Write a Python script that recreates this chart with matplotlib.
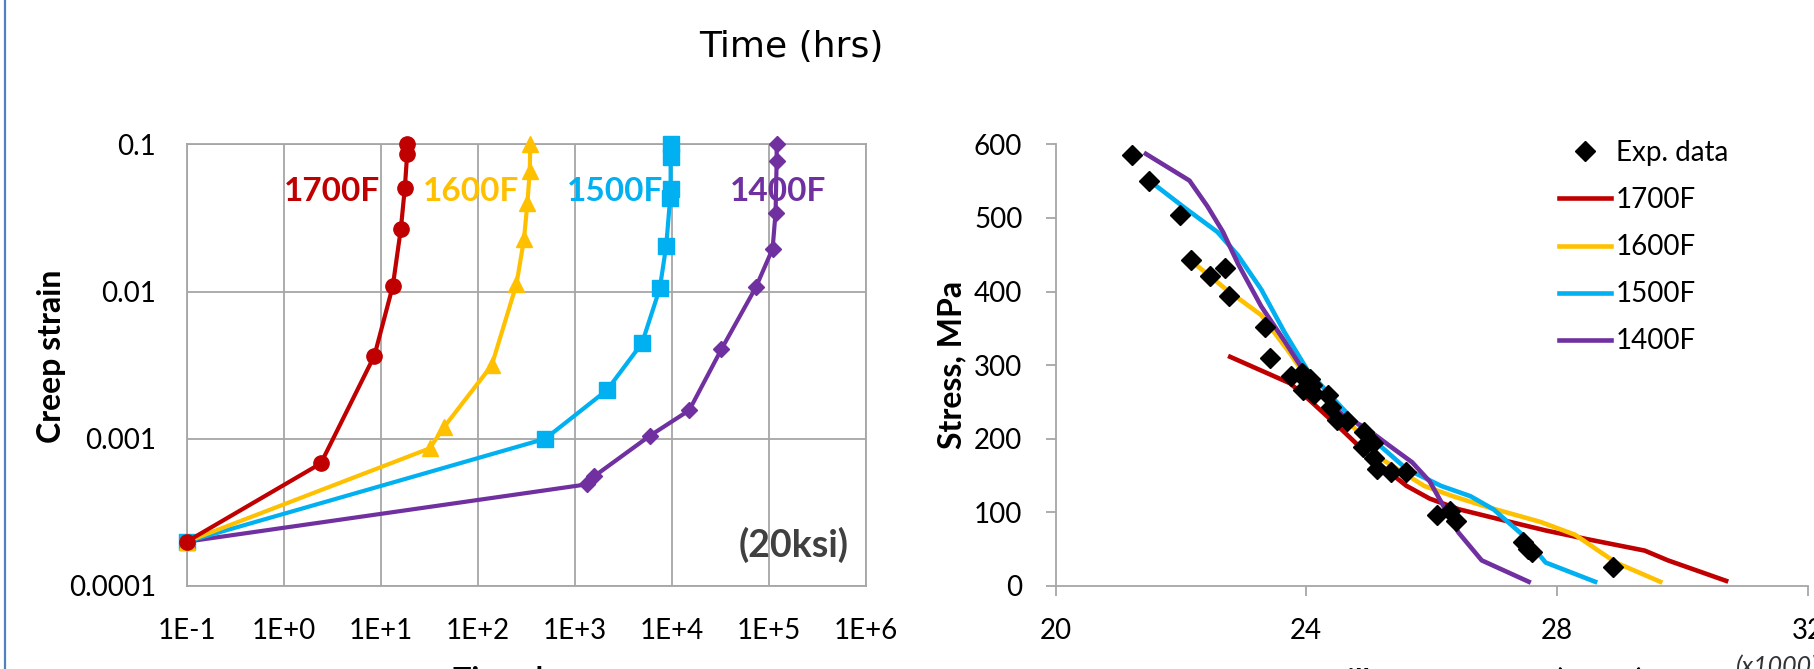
import matplotlib
matplotlib.use("Agg")
import matplotlib.pyplot as plt
from matplotlib.lines import Line2D

plt.rcParams['font.family'] = ['Lato', 'DejaVu Sans']

# ---------------- data: creep curves (left) ----------------
temps = ['1700F', '1600F', '1500F', '1400F']
colors = ['#C00000', '#FFC000', '#00B0F0', '#7030A0']
markers = ['o', '^', 's', 'D']

t1700 = [0.1, 2.41, 8.6, 13.3, 16.1, 17.7, 18.7, 18.7]
e1700 = [2.0e-4, 6.8e-4, 3.67e-3, 0.0109, 0.0267, 0.0506, 0.0863, 0.1]
t1600 = [0.1, 31.8, 44.8, 139, 250, 299, 324, 343, 347]
e1600 = [2.0e-4, 8.6e-4, 1.2e-3, 3.15e-3, 0.0112, 0.0227, 0.0398, 0.0657, 0.1]
t1500 = [0.1, 495, 2140, 4920, 7500, 8730, 9600, 9700, 9700, 9700]
e1500 = [2.0e-4, 1.0e-3, 2.14e-3, 4.46e-3, 0.0105, 0.0204, 0.0434, 0.0497, 0.0819, 0.1]
t1400 = [0.1, 1325, 1580, 5950, 15070, 32400, 73400, 109000, 117000, 120000, 120000]
e1400 = [2.0e-4, 4.9e-4, 5.56e-4, 1.05e-3, 1.56e-3, 4.06e-3, 0.0107, 0.0195, 0.0344, 0.0766, 0.1]

label_x = [3.13, 85.5, 2620, 123000]
label_y = 0.0476

xtick_vals = [1e-1, 1e0, 1e1, 1e2, 1e3, 1e4, 1e5, 1e6]
xtick_labels = ['1E-1', '1E+0', '1E+1', '1E+2', '1E+3', '1E+4', '1E+5', '1E+6']
ytick_vals = [1e-4, 1e-3, 1e-2, 1e-1]
ytick_labels = ['0.0001', '0.001', '0.01', '0.1']

# ---------------- data: Larson-Miller (right) ----------------
exp_lmp = [21.225, 21.494, 21.986, 22.153, 22.469, 22.701, 22.766, 23.341, 23.425,
           23.750, 23.926, 23.991, 24.065, 23.954, 24.093, 24.130, 24.343, 24.399,
           24.483, 24.650, 24.919, 24.900, 25.067, 25.086, 25.132, 25.346, 25.596,
           26.079, 26.292, 26.385, 27.452, 27.545, 27.610, 28.900]
exp_stress = [585.5, 550.7, 504.3, 442.3, 421.4, 431.9, 394.2, 351.9, 310.1,
              285.8, 289.9, 279.4, 281.2, 266.7, 272.5, 260.9, 259.1, 243.5,
              226.1, 224.3, 208.7, 188.4, 194.2, 173.9, 159.4, 154.8, 154.8,
              96.8, 101.4, 88.7, 59.7, 50.4, 46.4, 26.1]

lmp1700 = [22.785, 23.740, 24.019, 24.575, 25.039, 25.596, 25.967, 26.431, 27.174, 27.824, 28.473, 29.401, 29.773, 30.701]
s1700 = [311.3, 275.4, 255.0, 211.6, 173.9, 136.2, 118.8, 104.3, 88.7, 75.4, 63.8, 48.1, 34.8, 7.0]
lmp1600 = [22.153, 22.72, 23.28, 23.74, 24.02, 24.58, 25.23, 25.88, 26.34, 26.90, 27.74, 28.29, 28.94, 29.65]
s1600 = [442.3, 403, 368, 316, 281, 232, 171, 136, 122, 107, 87, 69.6, 31.9, 5.8]
lmp1500 = [21.494, 22.07, 22.58, 22.91, 23.28, 23.65, 24.02, 24.58, 25.13, 25.60, 26.15, 26.62, 26.99, 27.45, 27.82, 28.61]
s1500 = [550.7, 513, 481, 449, 403, 345, 293, 241, 194, 159, 136, 122, 104, 69.6, 31.9, 5.8]
lmp1400 = [21.44, 22.135, 22.42, 22.67, 22.91, 23.28, 23.65, 23.93, 24.20, 24.58, 24.95, 25.32, 25.69, 25.97, 26.20, 26.43, 26.80, 27.55]
s1400 = [587, 550.7, 516, 481, 437.7, 380, 333, 296, 264, 232, 214.5, 191, 168, 142, 107, 72.5, 34.8, 5.8]

lm_xticks = [20, 24, 28, 32]
lm_yticks = [0, 100, 200, 300, 400, 500, 600]

# ---------------- figure ----------------
W, H = 1814, 669
fig = plt.figure(figsize=(W / 100, H / 100), dpi=100)
fig.patch.set_facecolor('white')

def fx(px):
    return px / W

def fy(py):
    return 1 - py / H

grid_c = '#A6A6A6'
ax1 = fig.add_axes([fx(186.7), fy(586), fx(866) - fx(186.7), fy(144.3) - fy(586)])
ax1.set_xscale('log')
ax1.set_yscale('log')
ax1.set_xlim(1e-1, 1e6)
ax1.set_ylim(1e-4, 1e-1)
ax1.set_xticks(xtick_vals)
ax1.set_xticklabels(xtick_labels)
ax1.set_yticks(ytick_vals)
ax1.set_yticklabels(ytick_labels)
ax1.minorticks_off()
ax1.grid(True, color=grid_c, linewidth=1.3)
ax1.set_axisbelow(True)
for s in ax1.spines.values():
    s.set_color(grid_c)
    s.set_linewidth(1.3)
ax1.tick_params(axis='both', length=0, labelsize=20, colors='black')
ax1.tick_params(axis='x', pad=23)
ax1.tick_params(axis='y', pad=22)

series = [(t1400, e1400, 3), (t1500, e1500, 2), (t1600, e1600, 1), (t1700, e1700, 0)]
for tt, ee, i in series:
    ms = 8.5 if markers[i] == 'D' else 11
    ax1.plot(tt, ee, color=colors[i], marker=markers[i], markersize=ms,
             linewidth=3, zorder=3, clip_on=False)

for i, name in enumerate(temps):
    ax1.text(label_x[i], label_y, name, color=colors[i], fontsize=24,
             fontweight='bold', ha='center', va='center', zorder=2)
ax1.text(1.807e5, 1.91e-4, '(20ksi)', color='#404040', fontsize=27,
         fontweight='bold', ha='center', va='center')

# ---------------- right axes ----------------
lm_c = '#A6A6A6'
ax2 = fig.add_axes([fx(1055.7), fy(586), fx(1807.5) - fx(1055.7), fy(144.3) - fy(586)])
ax2.set_xlim(20, 32)
ax2.set_ylim(0, 600)
ax2.set_xticks(lm_xticks)
ax2.set_yticks(lm_yticks)
for side in ('top', 'right'):
    ax2.spines[side].set_visible(False)
for side in ('left', 'bottom'):
    ax2.spines[side].set_color(lm_c)
    ax2.spines[side].set_linewidth(1.3)
ax2.tick_params(axis='both', direction='out', length=7, width=1.3, color=lm_c,
                labelsize=20, labelcolor='black')
ax2.tick_params(axis='x', pad=16)
ax2.tick_params(axis='y', pad=17)

lines = []
for xx, yy, i in [(lmp1700, s1700, 0), (lmp1600, s1600, 1), (lmp1500, s1500, 2), (lmp1400, s1400, 3)]:
    ln, = ax2.plot(xx, yy, color=colors[i], linewidth=3.3, label=temps[i], zorder=3)
    lines.append(ln)
pts, = ax2.plot(exp_lmp, exp_stress, linestyle='none', marker='D', markersize=10,
                color='black', label='Exp. data', zorder=4)

leg = ax2.legend(handles=[pts] + lines, loc='upper left',
                 bbox_to_anchor=(fx(1559), fy(140)), bbox_transform=fig.transFigure,
                 frameon=False, fontsize=20, handlelength=1.87, handletextpad=0.18,
                 labelspacing=0.76, borderpad=0, borderaxespad=0, numpoints=1)

# ---------------- labels ----------------
fig.text(fx(791), fy(57.3), 'Time (hrs)', fontsize=26, family='DejaVu Sans',
         ha='center', va='baseline', color='black')
fig.text(fx(52), fy(356), 'Creep strain', fontsize=23, fontweight='bold',
         rotation=90, ha='center', va='center')
fig.text(fx(952), fy(365), 'Stress, MPa', fontsize=23, fontweight='bold',
         rotation=90, ha='center', va='center')
fig.text(fx(515), fy(666), 'Time, hrs', fontsize=22, fontweight='bold',
         ha='center', va='top')
fig.text(fx(1430), fy(666), 'Larson-Miller Parameter (C=20)', fontsize=22,
         fontweight='bold', ha='center', va='top')
fig.text(fx(1736), fy(655), '(x1000)', fontsize=18, style='italic',
         ha='left', va='top', color='#333333')

# left border line of the original frame
fig.add_artist(Line2D([fx(5), fx(5)], [0, 1], color='#4F81BD', linewidth=1.6,
                      transform=fig.transFigure))

fig.savefig('out.png', dpi=100, facecolor='white')
